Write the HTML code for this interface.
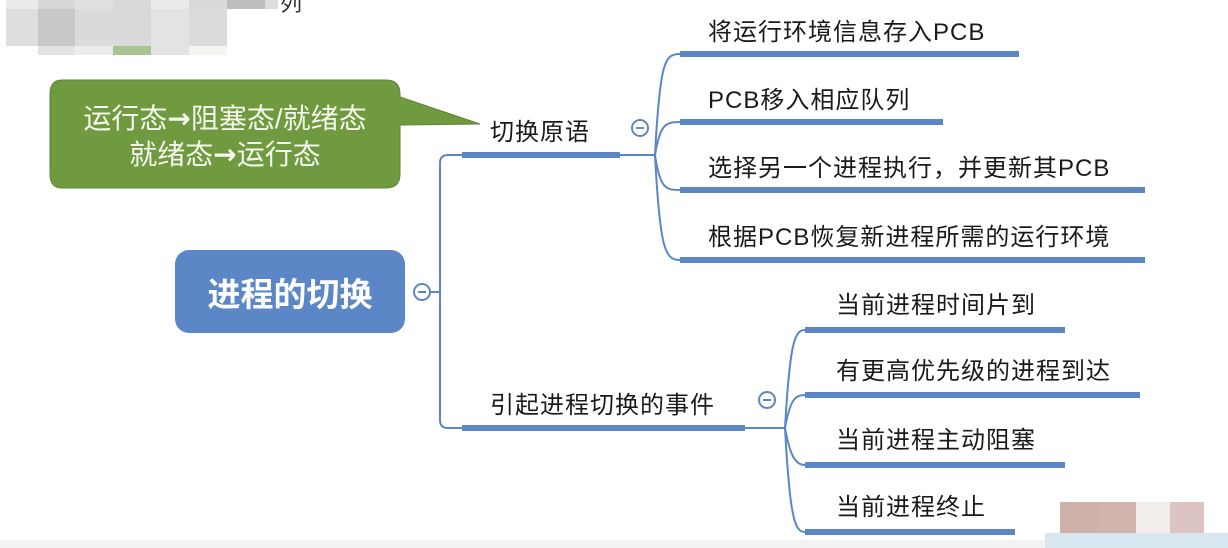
<!DOCTYPE html>
<html><head><meta charset="utf-8"><style>
html,body{margin:0;padding:0;background:#fff;}
body{width:1228px;height:548px;overflow:hidden;position:relative;font-family:"Liberation Sans","Noto Sans CJK SC",sans-serif;}
.b{position:absolute;}
</style></head><body>
<div class="b" style="left:6px;top:0;width:32px;height:9px;background:#ebebeb"></div>
<div class="b" style="left:38px;top:0;width:37px;height:9px;background:#d8d8d8"></div>
<div class="b" style="left:75px;top:0;width:38px;height:9px;background:#e0e0e0"></div>
<div class="b" style="left:113px;top:0;width:38px;height:9px;background:#d9d9d9"></div>
<div class="b" style="left:151px;top:0;width:38px;height:9px;background:#ebebeb"></div>
<div class="b" style="left:189px;top:0;width:38px;height:9px;background:#dadada"></div>
<div class="b" style="left:227px;top:0;width:38px;height:9px;background:#bdbdbd"></div>
<div class="b" style="left:265px;top:0;width:13px;height:9px;background:#ddd"></div>
<div class="b" style="left:6px;top:9px;width:32px;height:37px;background:#dedede"></div>
<div class="b" style="left:38px;top:9px;width:37px;height:37px;background:#c8c8c8"></div>
<div class="b" style="left:75px;top:9px;width:38px;height:37px;background:#dadada"></div>
<div class="b" style="left:113px;top:9px;width:38px;height:37px;background:#d9d9d9"></div>
<div class="b" style="left:151px;top:9px;width:38px;height:37px;background:#e3e3e3"></div>
<div class="b" style="left:189px;top:9px;width:38px;height:37px;background:#dbdbdb"></div>
<div class="b" style="left:38px;top:46px;width:37px;height:9px;background:#e3e3e3"></div>
<div class="b" style="left:75px;top:46px;width:38px;height:9px;background:#ececec"></div>
<div class="b" style="left:113px;top:46px;width:38px;height:9px;background:#a9c48f"></div>
<div class="b" style="left:151px;top:46px;width:38px;height:9px;background:#e3e3e3"></div>
<div class="b" style="left:189px;top:46px;width:38px;height:9px;background:#f3f5ee"></div>
<div class="b" style="left:280px;top:-14px;font-size:22px;color:#333">列</div>
<div class="b" style="left:1060px;top:502px;width:38px;height:31px;background:#cfb1ac"></div>
<div class="b" style="left:1098px;top:502px;width:38px;height:31px;background:#d2b4ae"></div>
<div class="b" style="left:1136px;top:502px;width:34px;height:31px;background:#f2ecea"></div>
<div class="b" style="left:1170px;top:502px;width:34px;height:31px;background:#dcc4c2"></div>
<div class="b" style="left:1045px;top:533px;width:183px;height:15px;background:#d8e6f0"></div>
<div class="b" style="left:0;top:540px;width:1045px;height:8px;background:#f2f2f2"></div>

<svg class="b" style="left:0;top:0" width="1228" height="548">
<path d="M62,80 H386 Q400,80 400,94 V97 L480,124 L400,125 V174 Q400,188 386,188 H62 Q50,188 50,174 V94 Q50,80 62,80 Z" fill="#6f9a3f" stroke="#5e8535" stroke-width="1"/>
<text x="225" y="128" font-size="28" fill="#f4f8ee" text-anchor="middle" font-family="Liberation Sans,Noto Sans CJK SC,sans-serif">运行态<tspan font-family="DejaVu Sans,sans-serif" font-weight="bold">→</tspan>阻塞态/就绪态</text>
<text x="225" y="164" font-size="28" fill="#f4f8ee" text-anchor="middle" font-family="Liberation Sans,Noto Sans CJK SC,sans-serif">就绪态<tspan font-family="DejaVu Sans,sans-serif" font-weight="bold">→</tspan>运行态</text>
<rect x="175" y="250" width="230" height="83" rx="14" fill="#5b87c6"/>
<text x="290" y="306" font-size="33" font-weight="bold" fill="#fff" text-anchor="middle" font-family="Liberation Sans,Noto Sans CJK SC,sans-serif">进程的切换</text>
<g fill="none" stroke="#5b87c6" stroke-width="2">
<circle cx="422" cy="292" r="8" fill="#fff"/>
<line x1="418" y1="292" x2="426" y2="292"/>
<line x1="430" y1="292" x2="440" y2="292"/>
<path d="M462,155 H448 Q440,155 440,163 V420 Q440,428 448,428 H462"/>
<line x1="620" y1="155" x2="655" y2="155"/>
<circle cx="640" cy="128" r="8" fill="#fff"/>
<line x1="636" y1="128" x2="644" y2="128"/>
<path d="M655,155 C660,60 665,54 680,54"/>
<path d="M655,155 C660,125 665,122 680,122"/>
<path d="M655,155 C660,188 665,190 680,190"/>
<path d="M655,155 C660,250 665,260 680,260"/>
<line x1="745" y1="428" x2="785" y2="428"/>
<circle cx="767" cy="400" r="8" fill="#fff"/>
<line x1="763" y1="400" x2="771" y2="400"/>
<path d="M785,428 C790,340 795,330 805,330"/>
<path d="M785,428 C790,400 795,395 805,395"/>
<path d="M785,428 C790,455 795,465 805,465"/>
<path d="M785,428 C790,520 795,532 805,532"/>
</g>
<g fill="#5b87c6">
<rect x="462" y="152" width="158" height="6"/>
<rect x="462" y="425" width="283" height="6"/>
<rect x="680" y="51" width="339" height="6"/>
<rect x="680" y="119" width="263" height="6"/>
<rect x="680" y="187" width="465" height="6"/>
<rect x="680" y="257" width="465" height="6"/>
<rect x="805" y="327" width="260" height="6"/>
<rect x="805" y="392" width="335" height="6"/>
<rect x="805" y="462" width="260" height="6"/>
<rect x="805" y="529" width="210" height="6"/>
</g>
<g font-size="24" letter-spacing="1" fill="#1a1a1a" font-family="Liberation Sans,Noto Sans CJK SC,sans-serif">
<text x="490" y="140">切换原语</text>
<text x="490" y="413">引起进程切换的事件</text>
<text x="708" y="40">将运行环境信息存入PCB</text>
<text x="708" y="108">PCB移入相应队列</text>
<text x="708" y="176">选择另一个进程执行，并更新其PCB</text>
<text x="708" y="245">根据PCB恢复新进程所需的运行环境</text>
<text x="836" y="313">当前进程时间片到</text>
<text x="836" y="379">有更高优先级的进程到达</text>
<text x="836" y="448">当前进程主动阻塞</text>
<text x="836" y="515">当前进程终止</text>
</g>
</svg>
</body></html>
